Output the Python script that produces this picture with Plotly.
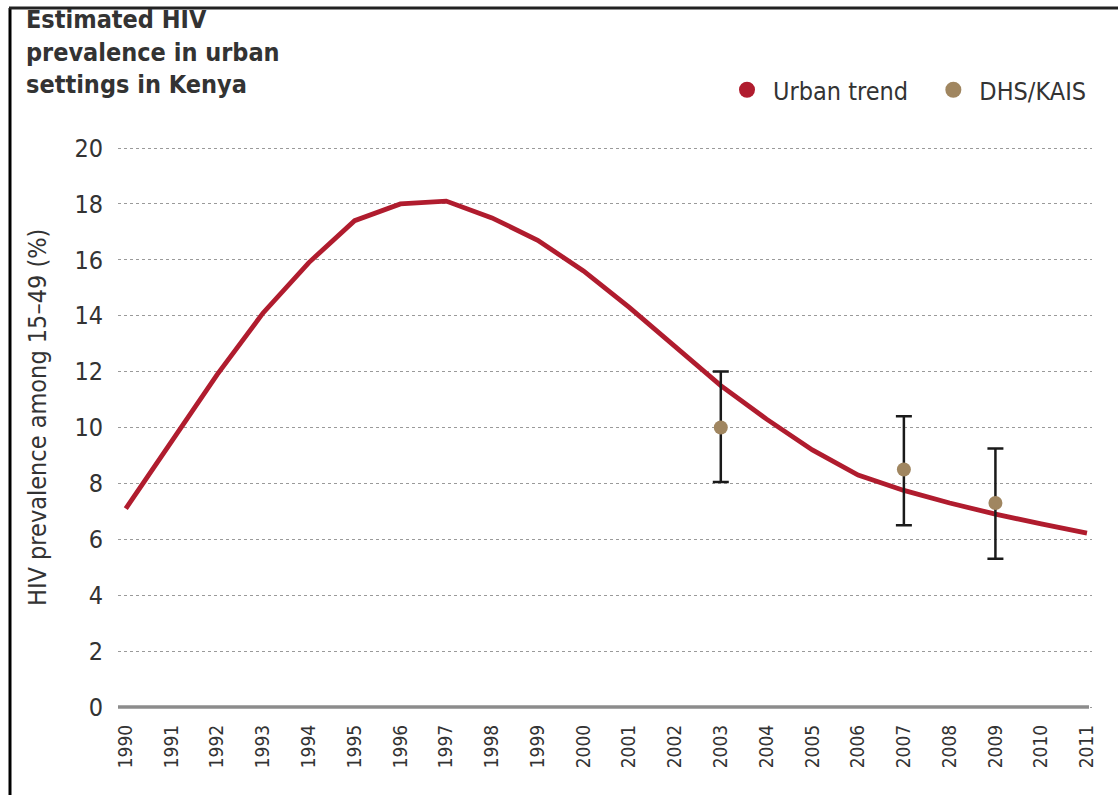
import plotly.graph_objects as go

years = list(range(1990, 2012))
urban_trend = [7.1, 9.5, 11.9, 14.1, 15.9, 17.4, 18.0, 18.1, 17.5, 16.7, 15.6,
               14.3, 12.9, 11.5, 10.3, 9.2, 8.3, 7.75, 7.3, 6.9, 6.55, 6.22]
survey_years = [2003, 2007, 2009]
survey_values = [10.0, 8.5, 7.3]
survey_upper = [12.0, 10.4, 9.25]
survey_lower = [8.05, 6.5, 5.3]
y_ticks = [0, 2, 4, 6, 8, 10, 12, 14, 16, 18, 20]

FONT = "DejaVu Sans Condensed, Roboto, sans-serif"
RED = "#b01c2e"
TAN = "#a08660"
TXT = "#333333"

W, H = 1118, 795
PXU = 27.95          # pixels per y unit
Y0 = 707             # pixel row of y = 0
YPAD = 0.25
L, R, T = 118, 26, 140
B = int(round(H - (Y0 + YPAD * PXU)))
PW, PH = W - L - R, H - T - B

def px(xp):
    return (xp - L) / PW

def py(yp):
    return (H - B - yp) / PH

fig = go.Figure()

fig.add_trace(go.Scatter(
    x=years, y=urban_trend, mode="lines",
    line=dict(color=RED, width=4.8), showlegend=False, hoverinfo="x+y"))

fig.add_trace(go.Scatter(
    x=survey_years, y=survey_values, mode="markers",
    marker=dict(color=TAN, size=14),
    error_y=dict(type="data", symmetric=False,
                 array=[u - v for u, v in zip(survey_upper, survey_values)],
                 arrayminus=[v - l for v, l in zip(survey_values, survey_lower)],
                 color="#1a1a1a", thickness=2.5, width=8),
    showlegend=False))

fig.add_trace(go.Scatter(x=[None], y=[None], mode="markers",
                         name="Urban trend\u00a0\u00a0",
                         marker=dict(color=RED, size=19)))
fig.add_trace(go.Scatter(x=[None], y=[None], mode="markers", name="DHS/KAIS",
                         marker=dict(color=TAN, size=19)))

fig.update_layout(
    width=W, height=H,
    margin=dict(l=L, r=R, t=T, b=B),
    paper_bgcolor="white", plot_bgcolor="white",
    font=dict(family=FONT, color=TXT),
    legend=dict(orientation="h", x=px(1092), xanchor="right", y=py(90), yanchor="middle",
                font=dict(size=25, color=TXT), bgcolor="rgba(0,0,0,0)",
                itemwidth=42, tracegroupgap=0),
    xaxis=dict(range=[1989.83, 2011.11], tickmode="array", tickvals=years,
               ticktext=[str(y) for y in years], tickangle=-90,
               tickfont=dict(size=19, color=TXT), showgrid=False, zeroline=False,
               showline=False, ticks="", ticklabelstandoff=6),
    yaxis=dict(range=[-YPAD, (Y0 - T) / PXU], tickmode="array", tickvals=y_ticks,
               tickfont=dict(size=25, color=TXT), showgrid=True,
               gridcolor="#9a9a9a", griddash="dot", gridwidth=1.2,
               zeroline=False, showline=False, ticks="", ticklabelstandoff=14),
    showlegend=True,
)

fig.add_shape(type="line", xref="paper", yref="y", x0=0, x1=px(1089), y0=0, y1=0,
              line=dict(color="#8c8c8c", width=3.5), layer="above")

fig.add_shape(type="line", xref="paper", yref="paper", x0=px(10), x1=px(10),
              y0=py(8), y1=py(800), line=dict(color="black", width=3))
fig.add_shape(type="line", xref="paper", yref="paper", x0=px(9), x1=px(1120),
              y0=py(8), y1=py(8), line=dict(color="#222222", width=3))

fig.add_annotation(xref="paper", yref="paper", x=px(24), y=py(3), xanchor="left",
                   yanchor="top", align="left", showarrow=False,
                   text="<b>Estimated HIV<br>prevalence in urban<br>settings in Kenya</b>",
                   font=dict(size=25, color=TXT, family=FONT))

fig.add_annotation(xref="paper", yref="paper", x=px(37), y=py(418), xanchor="center",
                   yanchor="middle", textangle=-90, showarrow=False,
                   text="HIV prevalence among 15–49 (%)",
                   font=dict(size=25, color=TXT, family=FONT))

fig.write_html("out.html")
